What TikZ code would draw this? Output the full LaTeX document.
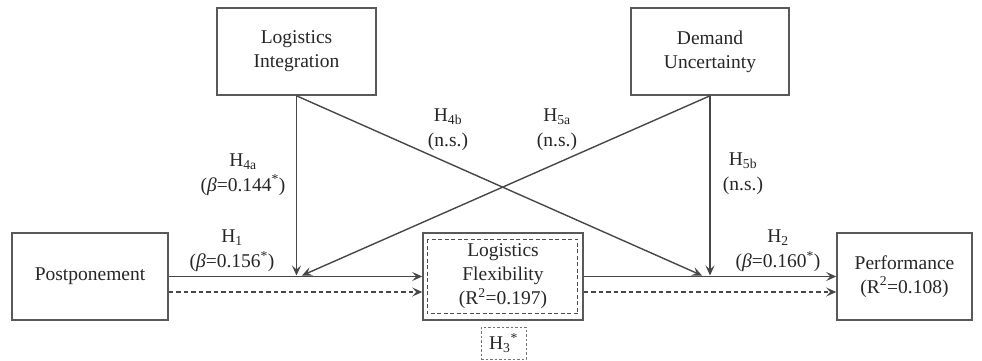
\documentclass[tikz,border=0pt]{standalone}
\usepackage{fontspec}
\setmainfont{Liberation Serif}
\usetikzlibrary{arrows.meta}
\begin{document}
\begin{tikzpicture}[x=1pt,y=-1pt,
  box/.style={draw=black!65,line width=1.6pt,inner sep=0pt,align=center,text=black!85,font=\fontsize{19.5}{24}\selectfont},
  lbl/.style={inner sep=0pt,align=center,text=black!85,font=\fontsize{19.5}{25}\selectfont},
  conn/.style={draw=black!72,line width=1.4pt},
  arr/.style={conn,-{Stealth[length=10pt,width=9pt,inset=4pt]}},
  darr/.style={arr,line width=1.2pt,dash pattern=on 4.5pt off 3pt}]
\useasboundingbox (0,0) rectangle (982,361);
% boxes
\node[box,minimum width=159pt,minimum height=87pt] (li) at (296.5,51.5) {Logistics\\Integration};
\node[box,minimum width=158pt,minimum height=87pt] (du) at (710,51.5) {Demand\\Uncertainty};
\node[box,minimum width=156pt,minimum height=87pt] (post) at (90,276.5) {Postponement};
\node[box,minimum width=160pt,minimum height=87pt] (lf) at (503,276.5) {Logistics\\Flexibility\\(R\textsuperscript{2}=0.197)};
\node[box,minimum width=135pt,minimum height=87pt] (perf) at (904.5,276.5) {Performance\\(R\textsuperscript{2}=0.108)};
\draw[draw=black!70,line width=1.1pt,dash pattern=on 4pt off 2.5pt] ([shift={(5,7)}]lf.north west) rectangle ([shift={(-6,-7)}]lf.south east);
\node[box,draw=black!55,line width=1pt,dash pattern=on 2.5pt off 2pt,minimum width=45pt,minimum height=32pt] (h3) at (503.5,343) {H\textsubscript{3}\textsuperscript{*}};
% free ends on the H1 / H2 path
\coordinate (m1) at (296.5,275.5);
\coordinate (m2) at (302,275.5);
\coordinate (m3) at (702,275.5);
\coordinate (m4) at (710,275.5);
% main paths
\draw[arr] (post.east) -- (lf.west);
\draw[arr] (lf.east) -- (perf.west);
\draw[darr] ([yshift=-15.5pt]post.east) -- ([yshift=-15.5pt]lf.west);
\draw[darr] ([yshift=-15.5pt]lf.east) -- ([yshift=-15.5pt]perf.west);
% moderators
\draw[arr] (li.south) -- (m1);
\draw[arr] (du.south) -- (m2);
\draw[arr] (li.south) -- (m3);
\draw[arr] (du.south) -- (m4);
% labels
\node[lbl] (l4a) at (243,174.5) {H\textsubscript{4a}\\(\textit{β}=0.144\textsuperscript{*})};
\node[lbl] (l1) at (232,251) {H\textsubscript{1}\\(\textit{β}=0.156\textsuperscript{*})};
\node[lbl] (l4b) at (448,129.5) {H\textsubscript{4b}\\(n.s.)};
\node[lbl] (l5a) at (557,129.5) {H\textsubscript{5a}\\(n.s.)};
\node[lbl] (l5b) at (743,173.5) {H\textsubscript{5b}\\(n.s.)};
\node[lbl] (l2) at (778,251) {H\textsubscript{2}\\(\textit{β}=0.160\textsuperscript{*})};
\end{tikzpicture}
\end{document}
